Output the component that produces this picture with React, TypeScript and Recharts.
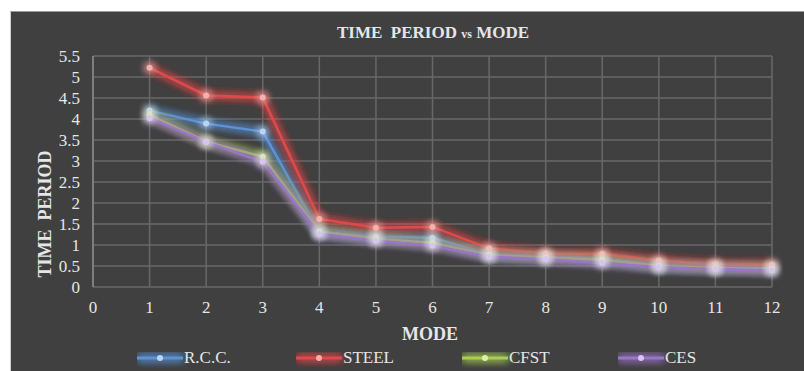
import { LineChart, Line, XAxis, YAxis, CartesianGrid } from 'recharts';

const modes = [1, 2, 3, 4, 5, 6, 7, 8, 9, 10, 11, 12];
const rcc = [4.2, 3.89, 3.7, 1.3, 1.2, 1.17, 0.78, 0.72, 0.68, 0.52, 0.46, 0.45];
const steel = [5.22, 4.56, 4.51, 1.62, 1.41, 1.43, 0.92, 0.8, 0.79, 0.63, 0.54, 0.53];
const cfst = [4.1, 3.46, 3.1, 1.32, 1.15, 1.05, 0.76, 0.7, 0.64, 0.5, 0.45, 0.43];
const ces = [4.02, 3.45, 2.98, 1.26, 1.1, 0.98, 0.72, 0.66, 0.57, 0.47, 0.43, 0.39];

const xTicks = [0, 1, 2, 3, 4, 5, 6, 7, 8, 9, 10, 11, 12];
const yTicks = [0, 0.5, 1, 1.5, 2, 2.5, 3, 3.5, 4, 4.5, 5, 5.5];

const series = [
  { key: 'rcc', name: 'R.C.C.', color: '#5b93d8', dot: '#b9d3f3', values: rcc },
  { key: 'steel', name: 'STEEL', color: '#e0494a', dot: '#f5b0ae', values: steel },
  { key: 'cfst', name: 'CFST', color: '#a8cf55', dot: '#dcefb4', values: cfst },
  { key: 'ces', name: 'CES', color: '#9a74c8', dot: '#d6c6ee', values: ces },
];

const data = modes.map((m, i) => {
  const row: Record<string, number> = { mode: m };
  series.forEach((s) => (row[s.key] = s.values[i]));
  return row;
});

const font = "'Liberation Serif', 'Times New Roman', Times, serif";
const textColor = '#e6e6e6';
const legendLeft = [137, 296, 462, 618];

const App = () => {
  return (
    <div style={{ position: 'absolute', left: 0, top: 0, width: 804, height: 371, background: '#ffffff', overflow: 'hidden', fontFamily: font }}>
      {/* soft coloured halo used by the series lines */}
      <svg width={0} height={0} style={{ position: 'absolute' }}>
        <defs>
          <filter id="glow" filterUnits="userSpaceOnUse" x="0" y="0" width="804" height="371">
            <feGaussianBlur in="SourceGraphic" stdDeviation="4" result="blur" />
            <feMerge>
              <feMergeNode in="blur" />
              <feMergeNode in="blur" />
              <feMergeNode in="blur" />
              <feMergeNode in="SourceGraphic" />
            </feMerge>
          </filter>
        </defs>
      </svg>
      <div style={{ position: 'absolute', left: 10, top: 11, right: 0, bottom: 0, background: '#404040', borderTop: '1px solid #9a9a9a', borderLeft: '1px solid #cfcfcf' }} />

      <div style={{ position: 'absolute', left: 0, top: 0 }}>
        <LineChart width={804} height={371} data={data} margin={{ top: 56, right: 32, bottom: 54, left: 33 }}>
          <CartesianGrid stroke="#686868" strokeWidth={1.5} />
          <XAxis
            dataKey="mode"
            type="number"
            domain={[0, 12]}
            ticks={xTicks}
            interval={0}
            height={30}
            axisLine={false}
            tickLine={false}
            tickSize={6}
            tickMargin={8}
            tick={{ fill: textColor, fontSize: 17, fontFamily: font }}
          />
          <YAxis
            type="number"
            domain={[0, 5.5]}
            ticks={yTicks}
            interval={0}
            width={60}
            axisLine={{ stroke: '#8a8a8a', strokeWidth: 1.5 }}
            tickLine={false}
            tickSize={6}
            tickMargin={7}
            tick={{ fill: textColor, fontSize: 17, fontFamily: font }}
          />
          {series.map((s) => (
            <Line
              key={s.key}
              dataKey={s.key}
              name={s.name}
              type="linear"
              stroke={s.color}
              strokeWidth={2.5}
              filter="url(#glow)"
              dot={{ r: 3, fill: s.dot, stroke: 'none' }}
              isAnimationActive={false}
            />
          ))}
        </LineChart>
      </div>

      <div style={{ position: 'absolute', left: 433, top: 33, transform: 'translate(-50%, -50%)', whiteSpace: 'nowrap', color: textColor, fontWeight: 'bold', fontSize: 17 }}>
        TIME&nbsp; PERIOD <span style={{ fontSize: 12 }}>vs</span> MODE
      </div>

      <div style={{ position: 'absolute', left: 45, top: 214, transform: 'translate(-50%, -50%) rotate(-90deg)', whiteSpace: 'nowrap', color: textColor, fontWeight: 'bold', fontSize: 18 }}>
        TIME&nbsp; PERIOD
      </div>

      <div style={{ position: 'absolute', left: 430, top: 334, transform: 'translate(-50%, -50%)', color: textColor, fontWeight: 'bold', fontSize: 18 }}>
        MODE
      </div>

      {series.map((s, i) => (
        <div key={s.key} style={{ position: 'absolute', left: legendLeft[i], top: 348, height: 20, display: 'flex', alignItems: 'center', color: textColor, fontSize: 17 }}>
          <svg width={46} height={12} style={{ overflow: 'visible' }}>
            <rect x={0} y={4.5} width={46} height={3} fill={s.color} filter="url(#glow)" />
            <circle cx={23} cy={6} r={3} fill={s.dot} />
          </svg>
          <span style={{ marginLeft: 1 }}>{s.name}</span>
        </div>
      ))}
    </div>
  );
};

export default App;
